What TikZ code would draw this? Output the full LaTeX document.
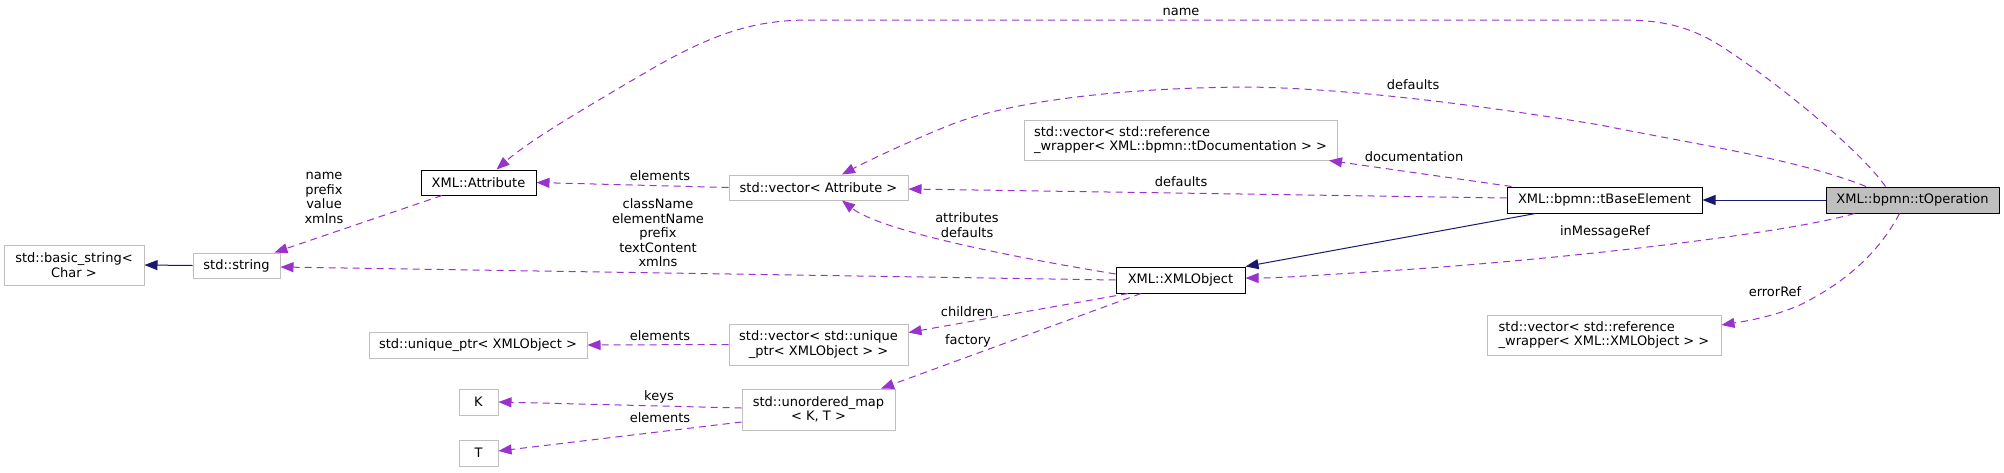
\documentclass[tikz,border=0pt]{standalone}
\usepackage{fontspec}
\setmainfont{DejaVu Sans}
\usetikzlibrary{arrows.meta}
\definecolor{edgepurple}{HTML}{9A32CD}
\definecolor{inhnavy}{HTML}{191970}
\definecolor{graybox}{HTML}{BFBFBF}
\begin{document}
\begin{tikzpicture}[x=1pt,y=-1pt,
  every node/.style={font=\fontsize{13pt}{14.5pt}\selectfont, inner sep=0pt},
  cls/.style={draw=graybox, line width=1pt, fill=white},
  clsb/.style={draw=black, line width=1pt, fill=white},
  dep/.style={draw=edgepurple, line width=1pt, dash pattern=on 7pt off 5pt, -{Triangle[length=13pt,width=10pt]}},
  inh/.style={draw=inhnavy, line width=1pt, -{Triangle[length=13pt,width=10pt]}},
]
\useasboundingbox[fill=white] (0,0) rectangle (2004,472);
% classes
\node[cls, minimum width=140pt, minimum height=40pt, align=center] (basic) at (74,265) {std::basic\_string<\\Char >};
\node[cls, minimum width=87pt, minimum height=25pt] (str) at (236.5,265.5) {std::string};
\node[clsb, minimum width=115pt, minimum height=25pt] (attr) at (478.5,182.5) {XML::Attribute};
\node[cls, minimum width=179pt, minimum height=25pt] (vecattr) at (818.5,187.5) {std::vector< Attribute >};
\node[cls, minimum width=313pt, minimum height=40pt, align=left] (vecdoc) at (1180.5,140) {std::vector< std::reference\\\_wrapper< XML::bpmn::tDocumentation > >};
\node[clsb, minimum width=129pt, minimum height=26pt] (xmlobj) at (1180.5,280) {XML::XMLObject};
\node[clsb, minimum width=195pt, minimum height=26pt] (base) at (1604.5,200) {XML::bpmn::tBaseElement};
\node[clsb, fill=graybox, minimum width=173pt, minimum height=26pt] (op) at (1912.5,200) {XML::bpmn::tOperation};
\node[cls, minimum width=234pt, minimum height=40pt, align=left] (vecxml) at (1604,335) {std::vector< std::reference\\\_wrapper< XML::XMLObject > >};
\node[cls, minimum width=218pt, minimum height=26pt] (uptr) at (478,345) {std::unique\_ptr< XMLObject >};
\node[cls, minimum width=179pt, minimum height=41pt, align=center] (vecuptr) at (818.5,344.5) {std::vector< std::unique\\\_ptr< XMLObject > >};
\node[cls, minimum width=39pt, minimum height=26pt] (K) at (478.5,402) {K};
\node[cls, minimum width=153pt, minimum height=41pt, align=center] (umap) at (818.5,409.5) {std::unordered\_map\\< K, T >};
\node[cls, minimum width=39pt, minimum height=26pt] (T) at (478.5,453) {T};
% inheritance
\draw[inh] (op.west) -- (base.east);
\draw[inh] ([xshift=-69pt]base.south) -- (xmlobj.north east);
\draw[inh] (str.west) -- (basic.east);
% usage
\draw[dep] ([xshift=-27pt]op.north) .. controls (1860,150) and (1780,85) .. (1727,50) .. controls (1690,25) and (1660,20) .. (1620,20) -- (810,20) .. controls (760,20) and (720,30) .. (655,67) .. controls (590,105) and (530,140) .. ([xshift=18pt]attr.north);
\draw[dep] ([xshift=-46.5pt]op.north) .. controls (1800,160) and (1700,145) .. (1600,125) .. controls (1450,100) and (1330,88) .. (1247,87) .. controls (1100,88) and (1000,105) .. (950,125) .. controls (900,145) and (860,165) .. ([xshift=23.5pt]vecattr.north);
\draw[dep] ([xshift=-36.5pt]attr.south) -- ([xshift=38pt]str.north);
\draw[dep] (vecattr.west) -- (attr.east);
\draw[dep] (xmlobj.west) -- ([yshift=-1.5pt]str.east);
\draw[dep] ([yshift=6pt]xmlobj.west) .. controls (1000,255) and (880,230) .. ([xshift=23.5pt]vecattr.south);
\draw[dep] ([yshift=2pt]base.west) -- ([yshift=-1.5pt]vecattr.east);
\draw[dep] ([xshift=-93pt]base.north) -- ([xshift=148.5pt]vecdoc.south);
\draw[dep] ([xshift=-58pt]op.south) .. controls (1780,235) and (1550,260) .. (1400,270) .. controls (1320,275) and (1280,278) .. ([yshift=2pt]xmlobj.east);
\draw[dep] ([xshift=-13pt]op.south) .. controls (1880,250) and (1850,280) .. (1800,305) .. controls (1770,318) and (1740,322) .. ([yshift=10pt]vecxml.east);
\draw[dep] ([xshift=-52.5pt]xmlobj.south) -- ([yshift=12pt]vecuptr.east);
\draw[dep] ([xshift=-39.5pt]xmlobj.south) -- ([xshift=62.5pt]umap.north);
\draw[dep] (vecuptr.west) -- (uptr.east);
\draw[dep] ([yshift=1.5pt]umap.west) -- (K.east);
\draw[dep] ([yshift=-12.5pt]umap.west) -- ([yshift=2pt]T.east);
% labels
\node (l1) at (1181,12) {name};
\node (l2) at (1413,85) {defaults};
\node[align=center] (l3) at (324,198) {name\\prefix\\value\\xmlns};
\node (l4) at (660,176) {elements};
\node[align=center] (l5) at (658,233) {className\\elementName\\prefix\\textContent\\xmlns};
\node (l6) at (1414,157) {documentation};
\node (l7) at (1181,182) {defaults};
\node[align=center] (l8) at (967,225) {attributes\\defaults};
\node (l9) at (1605,232) {inMessageRef};
\node (l10) at (1775,292) {errorRef};
\node (l11) at (967,312) {children};
\node (l12) at (968,341) {factory};
\node (l13) at (660,336) {elements};
\node (l14) at (659,397) {keys};
\node (l15) at (660,418) {elements};
\end{tikzpicture}
\end{document}
